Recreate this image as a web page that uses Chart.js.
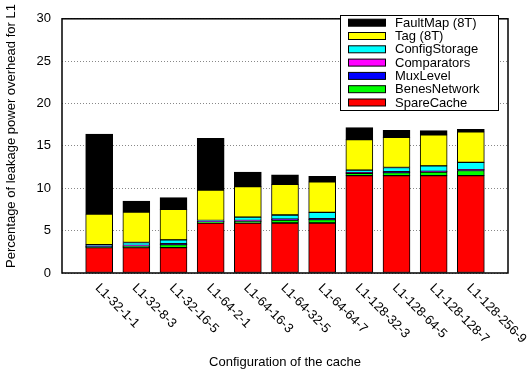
<!DOCTYPE html>
<html>
<head>
<meta charset="utf-8">
<script src="https://cdn.jsdelivr.net/npm/chart.js@4"></script>
<style>
	html, body { margin: 0; padding: 0; background: #fff; }
	#wrap { width: 528px; height: 373px; }
</style>
</head>
<body>
<div id="wrap"><canvas id="barChart"></canvas></div>
<script>
var categories = ['L1-32-1-1', 'L1-32-8-3', 'L1-32-16-5', 'L1-64-2-1', 'L1-64-16-3', 'L1-64-32-5',
	'L1-64-64-7', 'L1-128-32-3', 'L1-128-64-5', 'L1-128-128-7', 'L1-128-256-9']

var spareCache    = [3.0, 3.0, 3.0, 5.9, 5.9, 5.9, 5.9, 11.5, 11.5, 11.5, 11.5]
var benesNetwork  = [0.1, 0.15, 0.35, 0.1, 0.2, 0.35, 0.4, 0.25, 0.35, 0.4, 0.6]
var muxLevel      = [0.05, 0.05, 0.05, 0.05, 0.05, 0.05, 0.05, 0.05, 0.05, 0.05, 0.05]
var comparators   = [0.05, 0.05, 0.05, 0.05, 0.05, 0.05, 0.05, 0.05, 0.05, 0.05, 0.05]
var configStorage = [0.15, 0.35, 0.45, 0.1, 0.4, 0.5, 0.75, 0.3, 0.5, 0.65, 0.85]
var tag8T         = [3.6, 3.6, 3.6, 3.6, 3.6, 3.6, 3.6, 3.6, 3.55, 3.65, 3.6]
var faultMap8T    = [9.45, 1.3, 1.4, 6.1, 1.7, 1.15, 0.65, 1.4, 0.85, 0.5, 0.3]

var yTicks = [0, 5, 10, 15, 20, 25, 30]

var FONT = '"Liberation Sans", Arial, sans-serif'

function points(arr) {
	return arr.map(function(v, i) { return { x: i, y: v } })
}

function serie(label, arr, color) {
	return {
		label: label,
		data: points(arr),
		backgroundColor: color,
		borderColor: '#000',
		borderWidth: 1,
		borderSkipped: false,
		barThickness: 27
	}
}

// frame, x labels, axis titles and the boxed key
var decor = {
	id: 'decor',
	afterDraw: function(chart) {
		var c = chart.ctx
		var a = chart.chartArea
		var xs = chart.scales.x
		c.save()

		c.strokeStyle = '#000'
		c.lineWidth = 1.5
		c.strokeRect(a.left, a.top, a.right - a.left, a.bottom - a.top)

		c.fillStyle = '#000'
		c.font = '13px ' + FONT
		c.textAlign = 'left'
		c.textBaseline = 'middle'
		categories.forEach(function(name, i) {
			var px = xs.getPixelForValue(i)
			c.save()
			c.translate(px - 2, a.bottom + 13)
			c.rotate(Math.PI / 4)
			c.fillText(name, 0, 0)
			c.restore()
		})

		c.textAlign = 'center'
		c.fillText('Configuration of the cache', (a.left + a.right) / 2, 362)

		c.save()
		c.translate(11, 136)
		c.rotate(-Math.PI / 2)
		c.fillText('Percentage of leakage power overhead for L1', 0, 0)
		c.restore()

		// key, top entry is the top of the stack
		var bx = 340, by = 15, bw = 158, bh = 95
		c.fillStyle = '#fff'
		c.fillRect(bx, by, bw, bh)
		c.strokeStyle = '#000'
		c.lineWidth = 1
		c.strokeRect(bx + 0.5, by + 0.5, bw, bh)
		var sets = chart.data.datasets.slice().reverse()
		c.textAlign = 'left'
		sets.forEach(function(ds, k) {
			var y = 22.7 + k * 13.3
			c.fillStyle = ds.backgroundColor
			c.fillRect(348, y - 3.5, 37, 7)
			c.strokeRect(348.5, y - 3.5, 37, 7)
			c.fillStyle = '#000'
			c.fillText(ds.label, 395, y + 0.5)
		})

		c.restore()
	}
}

window.onload = function(e) {
	var ctx = document.getElementById('barChart').getContext('2d')
	var barChart = new Chart(ctx, {
		type: 'bar',
		data: {
			datasets: [
				serie('SpareCache', spareCache, '#ff0000'),
				serie('BenesNetwork', benesNetwork, '#00ff00'),
				serie('MuxLevel', muxLevel, '#0000ff'),
				serie('Comparators', comparators, '#ff00ff'),
				serie('ConfigStorage', configStorage, '#00ffff'),
				serie('Tag (8T)', tag8T, '#ffff00'),
				serie('FaultMap (8T)', faultMap8T, '#000000')
			]
		},
		options: {
			responsive: true,
			maintainAspectRatio: false,
			animation: false,
			layout: { padding: { left: 0, right: 20, top: 11, bottom: 0 } },
			plugins: {
				legend: { display: false },
				tooltip: { enabled: false }
			},
			scales: {
				x: {
					type: 'linear',
					stacked: true,
					offset: false,
					min: -1,
					max: 11,
					ticks: { display: false },
					grid: { display: false },
					border: { display: false },
					afterFit: function(s) { s.height = 100 }
				},
				y: {
					stacked: true,
					min: 0,
					max: 30,
					afterBuildTicks: function(s) { s.ticks = yTicks.map(function(v) { return { value: v } }) },
					ticks: {
						color: '#000',
						font: { family: FONT, size: 13 },
						padding: 11
					},
					grid: {
						color: '#888',
						lineWidth: 1,
						drawTicks: false
					},
					border: { display: false, dash: [1, 2] },
					afterFit: function(s) { s.width = 62 }
				}
			}
		},
		plugins: [decor]
	})
}
</script>
</body>
</html>
